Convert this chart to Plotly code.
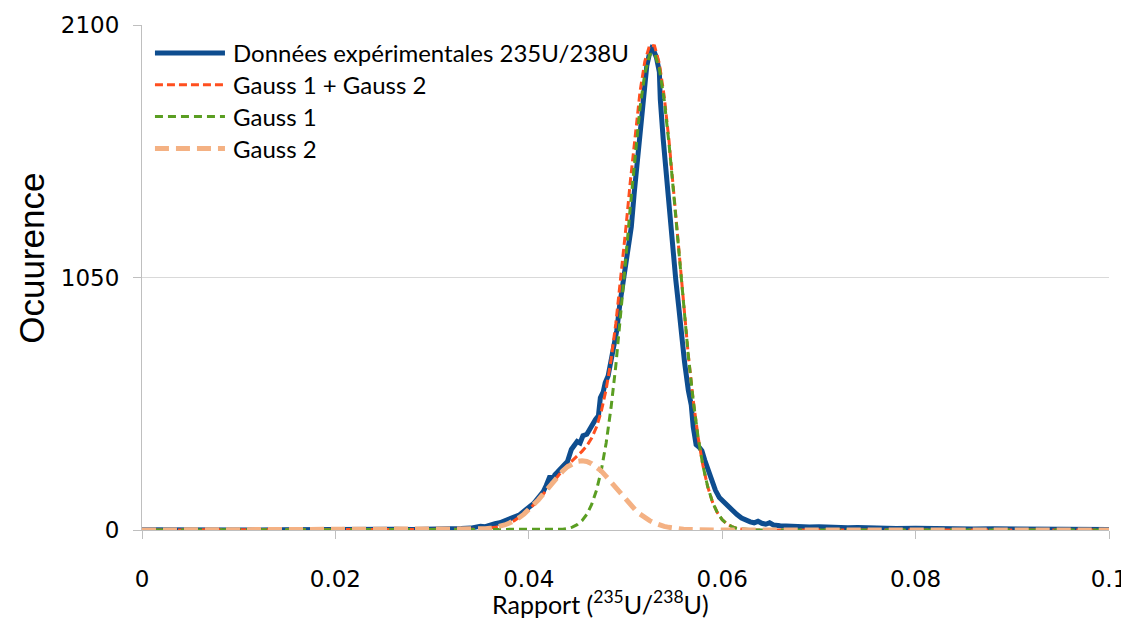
import plotly.graph_objects as go

exp_x = [0.000, 0.002, 0.004, 0.006, 0.008, 0.010, 0.012, 0.014, 0.016, 0.018,
         0.020, 0.022, 0.024, 0.026, 0.028, 0.030, 0.031, 0.032, 0.033, 0.034,
         0.0345, 0.035, 0.0355, 0.036, 0.0365, 0.037, 0.0375, 0.038, 0.0385, 0.039,
         0.0395, 0.040, 0.0405, 0.041, 0.0415, 0.0418, 0.042, 0.0422, 0.0424, 0.0427,
         0.043, 0.0435, 0.044, 0.0444, 0.0447, 0.045, 0.0453, 0.0456, 0.046, 0.0463,
         0.0466, 0.0469, 0.0472, 0.0474, 0.0477, 0.0479, 0.0482, 0.0485, 0.0488, 0.0491,
         0.0494, 0.0497, 0.0500, 0.0503, 0.0506, 0.0509, 0.0512, 0.0515, 0.0517, 0.0520,
         0.0522, 0.0525, 0.0527, 0.0529, 0.0532, 0.0535, 0.0536, 0.0539, 0.0542, 0.0544,
         0.0547, 0.0549, 0.0552, 0.0555, 0.0558, 0.0561, 0.0565, 0.0568, 0.0570, 0.0573,
         0.0576, 0.0579, 0.0582, 0.0586, 0.0589, 0.0593, 0.0597, 0.0601, 0.0605, 0.0610,
         0.0615, 0.0620, 0.0625, 0.0629, 0.0633, 0.0637, 0.0641, 0.0645, 0.0649, 0.0653,
         0.0660, 0.0667, 0.0673, 0.068, 0.069, 0.070, 0.071, 0.072, 0.073, 0.074,
         0.075, 0.076, 0.078, 0.080, 0.082, 0.084, 0.086, 0.088, 0.090, 0.092,
         0.094, 0.096, 0.098, 0.100]
exp_y = [1, 0, 1, 0, 2, 1, 0, 1, 2, 1,
         0, 2, 1, 3, 2, 2, 3, 4, 6, 8,
         12, 16, 14, 22, 26, 30, 38, 48, 52, 62,
         78, 95, 110, 135, 160, 185, 210, 225, 205, 230,
         242, 265, 285, 335, 350, 368, 362, 392, 398, 420,
         435, 460, 475, 550, 575, 612, 640, 700, 770, 830,
         935, 1020, 1110, 1200, 1260, 1400, 1520, 1640, 1740, 1850,
         1930, 1985, 2003, 1995, 1965, 1905, 1790, 1625, 1490, 1390,
         1260, 1140, 1040, 930, 800, 700, 580, 520, 430, 355,
         345, 330, 290, 245, 205, 165, 135, 118, 100, 82,
         65, 50, 40, 34, 30, 36, 28, 24, 30, 21,
         18, 16, 18, 14, 12, 13, 10, 11, 9, 10,
         8, 7, 6, 7, 5, 6, 4, 5, 4, 3,
         4, 3, 3, 2]

# fitted curves, sampled on the same grid
fit_x = [0.000, 0.010, 0.020, 0.030, 0.0335, 0.0340, 0.0345, 0.0350, 0.0355, 0.0360,
         0.0365, 0.0370, 0.0375, 0.0380, 0.0385, 0.0390, 0.0395, 0.0400, 0.0405, 0.0410,
         0.0415, 0.0420, 0.0425, 0.0430, 0.0435, 0.0440, 0.0445, 0.0450, 0.0455, 0.0460,
         0.0465, 0.0470, 0.0475, 0.0480, 0.0485, 0.0490, 0.0495, 0.0500, 0.0505, 0.0510,
         0.0515, 0.0520, 0.0525, 0.0530, 0.0535, 0.0540, 0.0545, 0.0550, 0.0555, 0.0560,
         0.0565, 0.0570, 0.0575, 0.0580, 0.0585, 0.0590, 0.0595, 0.0600, 0.0605, 0.0610,
         0.0615, 0.0620, 0.0625, 0.0630, 0.0635, 0.070, 0.080, 0.090, 0.100]
gauss1 = [0, 0, 0, 0, 0, 0, 0, 0, 0, 0,
          0, 0, 0, 0, 0, 0, 0, 0, 0, 0,
          0, 0, 1, 2, 3, 6, 12, 22, 39, 65,
          106, 165, 249, 362, 507, 684, 889, 1114, 1346, 1566,
          1756, 1898, 1977, 1984, 1919, 1789, 1607, 1391, 1161, 933,
          723, 540, 388, 269, 180, 116, 72, 43, 25, 14,
          7, 4, 2, 1, 0, 0, 0, 0, 0]
gauss2 = [0, 0, 0, 0, 0, 1, 2, 3, 5, 7,
          11, 15, 21, 29, 39, 51, 66, 84, 104, 126,
          150, 175, 199, 223, 245, 263, 276, 285, 288, 285,
          276, 263, 245, 223, 199, 175, 150, 126, 104, 84,
          66, 51, 39, 29, 21, 15, 11, 7, 5, 3,
          2, 1, 0, 0, 0, 0, 0, 0, 0, 0,
          0, 0, 0, 0, 0, 0, 0, 0, 0]
gauss_sum = [0, 0, 0, 0, 0, 1, 2, 3, 5, 7,
             11, 15, 21, 29, 39, 51, 66, 84, 104, 126,
             150, 175, 200, 225, 248, 269, 288, 307, 327, 350,
             382, 428, 494, 585, 706, 859, 1039, 1240, 1450, 1650,
             1822, 1949, 2016, 2013, 1940, 1804, 1618, 1398, 1166, 936,
             725, 541, 388, 269, 180, 116, 72, 43, 25, 14,
             7, 4, 2, 1, 0, 0, 0, 0, 0]

x_ticks = [0, 0.02, 0.04, 0.06, 0.08, 0.1]
x_labels = ['0', '0.02', '0.04', '0.06', '0.08', '0.1']
y_ticks = [0, 1050, 2100]

names = ['Données expérimentales 235U/238U', 'Gauss 1 + Gauss 2', 'Gauss 1', 'Gauss 2']
styles = [dict(color='#0E4D8F', width=5),
          dict(color='#FF4F1F', width=3, dash='8px,4px'),
          dict(color='#5A9E22', width=3, dash='8px,5px'),
          dict(color='#F4B183', width=5, dash='14px,7px')]
series = [(exp_x, exp_y), (fit_x, gauss_sum), (fit_x, gauss1), (fit_x, gauss2)]

fig = go.Figure()
for (xs, ys), name, st in zip(series, names, styles):
    fig.add_trace(go.Scatter(x=xs, y=ys, mode='lines', name=name, line=st,
                             showlegend=False))

# legend drawn by hand so the line samples are as long as in the original
for i, (name, st) in enumerate(zip(names, styles)):
    ly = 0.9446 - i * 0.0630
    fig.add_shape(type='line', xref='paper', yref='paper',
                  x0=0.0134, x1=0.0858, y0=ly, y1=ly, line=st)
    fig.add_annotation(text=name, xref='paper', yref='paper', x=0.0920, y=ly,
                       xanchor='left', yanchor='middle', showarrow=False,
                       font=dict(family='Lato', size=24, color='black'))

grey = '#BFBFBF'
# page body has an 8px margin: keep the figure inside the window
fig.update_layout(
    width=1121, height=612,
    margin=dict(l=134, r=20, t=17, b=90),
    paper_bgcolor='white', plot_bgcolor='white',
    xaxis=dict(range=[0, 0.1], tickvals=x_ticks, ticktext=x_labels,
               showgrid=False, zeroline=False, automargin=False,
               showline=True, linecolor=grey, linewidth=1,
               ticks='outside', ticklen=8, tickcolor=grey,
               ticklabelstandoff=20, ticklabeloverflow='allow',
               tickfont=dict(family='DejaVu Sans', size=23, color='black')),
    yaxis=dict(range=[0, 2100], tickvals=y_ticks,
               showgrid=True, gridcolor='#D9D9D9', gridwidth=1, zeroline=False,
               automargin=False,
               showline=True, linecolor=grey, linewidth=1,
               ticks='outside', ticklen=8, tickcolor=grey,
               ticklabelstandoff=9, ticklabeloverflow='allow',
               tickfont=dict(family='DejaVu Sans', size=23, color='black')),
)

fig.add_annotation(text='Rapport (<sup>235</sup>U/<sup>238</sup>U)',
                   xref='paper', yref='paper', x=0.4741, y=-0.1426,
                   xanchor='center', yanchor='middle', showarrow=False,
                   font=dict(family='Lato', size=25, color='black'))
fig.add_annotation(text='Ocuurence', textangle=-90,
                   xref='paper', yref='paper', x=-0.1150, y=0.5386,
                   xanchor='center', yanchor='middle', showarrow=False,
                   font=dict(family='Liberation Sans', size=35, color='black'))

fig.write_html("out.html")
